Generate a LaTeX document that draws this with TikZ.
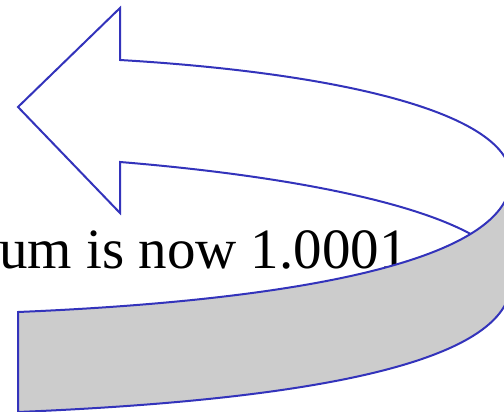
\documentclass[tikz,border=0pt]{standalone}
\usepackage{fontspec}
\setmainfont{Liberation Serif}
\definecolor{edgeblue}{RGB}{51,51,187}
\definecolor{bandgray}{RGB}{204,204,204}
\begin{document}
\begin{tikzpicture}[x=1pt,y=-1pt,
  ribbon/.style={draw=edgeblue,line width=2pt,line join=miter},
  caption/.style={inner sep=0pt,anchor=base west,font=\fontsize{57}{60}\selectfont}]
\useasboundingbox (0,0) rectangle (504,412);
\clip (0,0) rectangle (504,412);
% upper (white) part of the turning arrow
\path[ribbon] (511,281) .. controls (511,222) and (340,180) .. (120,162)
  -- (120,213) -- (18,107) -- (120,8) -- (120,60)
  .. controls (340,73) and (511,113) .. (511,178);
% text behind the band
\node[caption] (txt) at (-1,268) {um is now 1.0001};
% lower (gray) band
\path[ribbon,fill=bandgray] (18,312) .. controls (260,302) and (511,268) .. (511,178)
  -- (530,178) -- (530,282) -- (511,282)
  .. controls (511,372) and (260,402) .. (18,412) -- cycle;
\end{tikzpicture}
\end{document}
